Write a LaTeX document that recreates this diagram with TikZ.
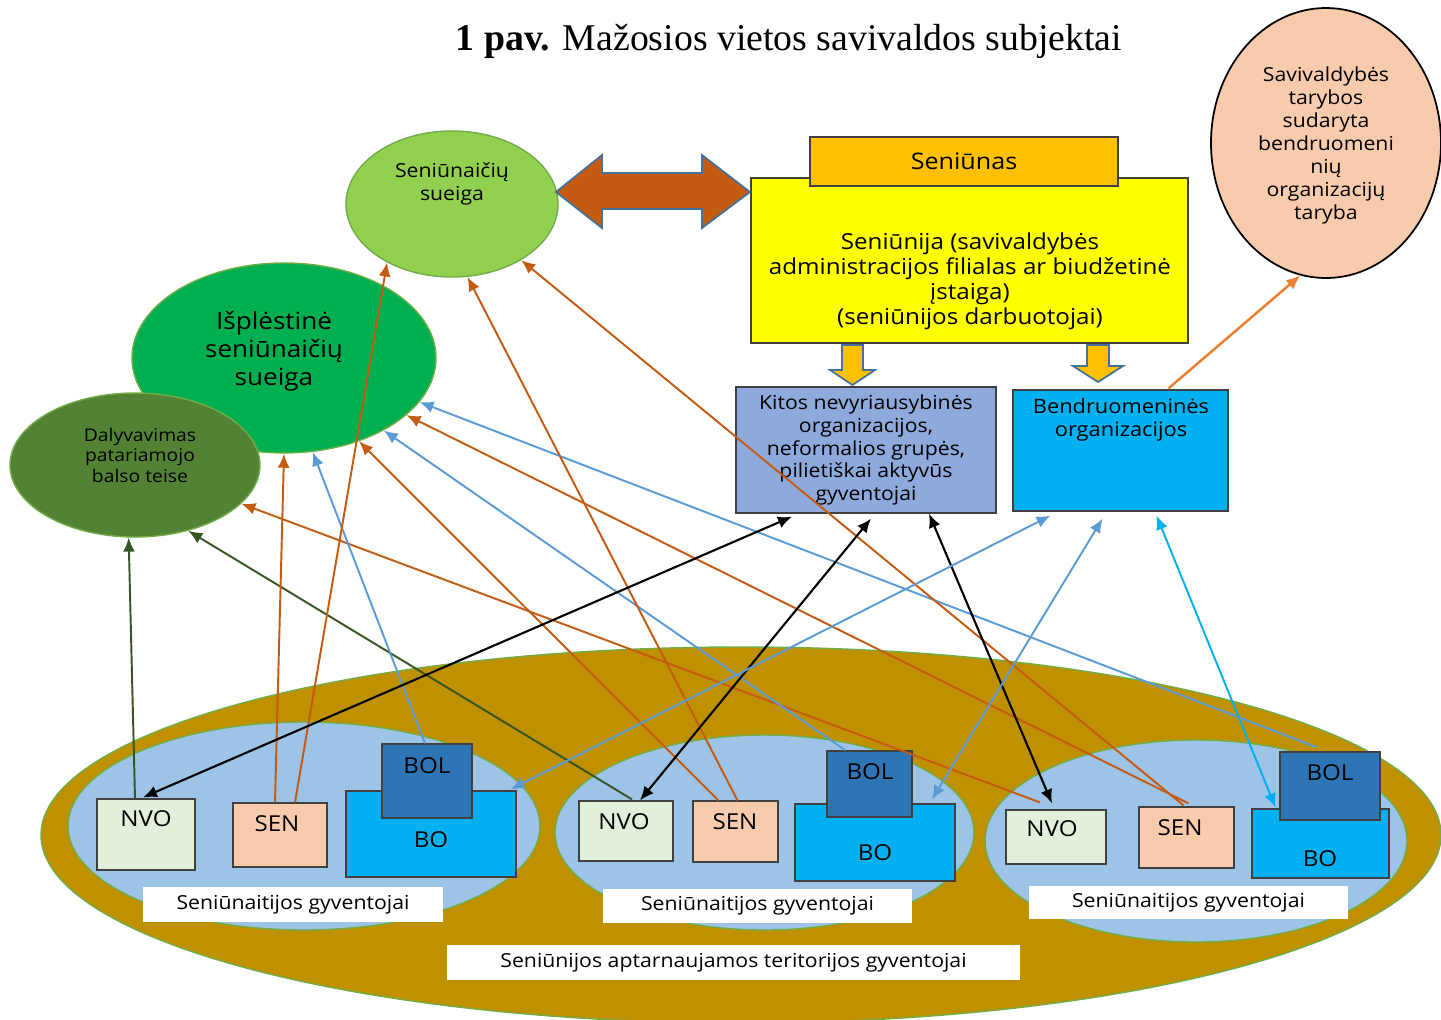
\documentclass[tikz,border=0pt]{standalone}
\usepackage{fontspec}
\setmainfont{Open Sans}[FakeStretch=1.1]
\newfontfamily\titlefont{Liberation Serif}
\usetikzlibrary{calc,shapes.geometric,arrows.meta}

\definecolor{leaf}{HTML}{92D050}
\definecolor{grass}{HTML}{00B050}
\definecolor{moss}{HTML}{548235}
\definecolor{rimgreen}{HTML}{70AD47}
\definecolor{rust}{HTML}{C55A11}
\definecolor{steel}{HTML}{41719C}
\definecolor{gold}{HTML}{FFC000}
\definecolor{lemon}{HTML}{FFFF00}
\definecolor{lavender}{HTML}{8EA9DB}
\definecolor{sky}{HTML}{00B0F0}
\definecolor{peach}{HTML}{F8CBAD}
\definecolor{ochre}{HTML}{BF9000}
\definecolor{pale}{HTML}{9DC3E6}
\definecolor{mint}{HTML}{E2EFDA}
\definecolor{navy}{HTML}{2E75B6}
\definecolor{wire}{HTML}{5B9BD5}
\definecolor{pine}{HTML}{375623}
\definecolor{tangerine}{HTML}{ED7D31}

\begin{document}
\begin{tikzpicture}[x=0.02cm,y=-0.02cm,
  oval/.style 2 args={ellipse, minimum width=#1*0.02cm, minimum height=#2*0.02cm, inner sep=0pt, line width=0.8pt},
  box/.style 2 args={rectangle, draw=black!75, line width=0.7pt, minimum width=#1*0.02cm, minimum height=#2*0.02cm, inner sep=0pt},
  txt/.style={align=center, inner sep=0pt, font=\fontsize{11}{13}\selectfont},
  tag/.style={inner sep=0pt, font=\fontsize{12.5}{15}\selectfont},
  link/.style={line width=1.1pt, -{Latex[length=0.28cm,width=0.24cm]}},
  twoway/.style={line width=1.2pt, {Latex[length=0.28cm,width=0.24cm]}-{Latex[length=0.28cm,width=0.24cm]}},
  block/.style={line width=1pt, draw=steel}
]
\useasboundingbox (0,0) rectangle (1441,1019);

%%%%% TITLE %%%%%
\node[inner sep=0pt, font=\titlefont\fontsize{21.5}{24}\selectfont] (title) at (789,41)
  {\textbf{1 pav.} Mažosios vietos savivaldos subjektai};

%%%%% TERRITORY %%%%%
\node[oval={1400}{376}, fill=ochre, draw=rimgreen] (terr) at (741,835) {};
\node[oval={472}{208}, fill=pale, draw=rimgreen] (areaA) at (304,826) {};
\node[oval={419}{195}, fill=pale, draw=rimgreen] (areaB) at (764.5,832.5) {};
\node[oval={422}{202}, fill=pale, draw=rimgreen] (areaC) at (1196,841) {};

% first group
\node[box={98}{71}, fill=mint] (nvoA) at (146,834.5) {};
\node[box={94}{64}, fill=peach] (senA) at (280,835) {};
\node[box={170}{86}, fill=sky] (boA) at (431,834) {};
\node[box={90}{74}, fill=navy] (bolA) at (427,781) {};
\node[tag] (nvoAt) at (146,819) {NVO};
\node[tag] (senAt) at (277,824) {SEN};
\node[tag] (boAt) at (431,840) {BO};
\node[tag] (bolAt) at (427,766) {BOL};
\node[box={300}{35}, draw=none, fill=white, txt] (labA) at (293,904.5) {Seniūnaitijos gyventojai};

% second group
\node[box={94}{60}, fill=mint] (nvoB) at (626,831) {};
\node[box={85}{61}, fill=peach] (senB) at (735.5,831.5) {};
\node[box={160}{77}, fill=sky] (boB) at (875,842.5) {};
\node[box={85}{66}, fill=navy] (bolB) at (869.5,784) {};
\node[tag] (nvoBt) at (624,822) {NVO};
\node[tag] (senBt) at (735,822) {SEN};
\node[tag] (boBt) at (875,853) {BO};
\node[tag] (bolBt) at (870,772) {BOL};
\node[box={309}{34}, draw=none, fill=white, txt] (labB) at (757.5,906) {Seniūnaitijos gyventojai};

% third group
\node[box={100}{54}, fill=mint] (nvoC) at (1056,837) {};
\node[box={95}{61}, fill=peach] (senC) at (1186.5,837.5) {};
\node[box={137}{69}, fill=sky] (boC) at (1320.5,843.5) {};
\node[box={100}{68}, fill=navy] (bolC) at (1330,786) {};
\node[tag] (nvoCt) at (1052,829) {NVO};
\node[tag] (senCt) at (1180,828) {SEN};
\node[tag] (boCt) at (1320,859) {BO};
\node[tag] (bolCt) at (1330,773) {BOL};
\node[box={319}{33}, draw=none, fill=white, txt] (labC) at (1188.5,902.5) {Seniūnaitijos gyventojai};

\node[box={573}{35}, draw=none, fill=white, txt] (labAll) at (733.5,962.5) {Seniūnijos aptarnaujamos teritorijos gyventojai};

%%%%% MEETINGS %%%%%
\node[oval={304}{190}, fill=grass, draw=rimgreen] (isp) at (284,358) {};
\node[txt, font=\fontsize{13.5}{16}\selectfont] (ispt) at (274,351) {Išplėstinė\\seniūnaičių\\sueiga};
\node[oval={250}{144}, fill=moss, draw=rimgreen] (dal) at (135,465) {};
\node[txt, font=\fontsize{10}{11.7}\selectfont] (dalt) at (140,455) {Dalyvavimas\\patariamojo\\balso teise};
\node[oval={212}{146}, fill=leaf, draw=rimgreen] (sueiga) at (452,204) {};
\node[txt] (sueigat) at (452,183.5) {Seniūnaičių\\sueiga};

%%%%% ADMINISTRATION %%%%%
\node[box={437}{165}, fill=lemon] (seniunija) at (969.5,260.5) {};
\node[txt, font=\fontsize{12.5}{14.2}\selectfont] (seniunijat) at (970,281)
  {Seniūnija (savivaldybės\\administracijos filialas ar biudžetinė\\įstaiga)\\(seniūnijos darbuotojai)};
\node[box={308}{49}, fill=gold, font=\fontsize{13}{15}\selectfont] (seniunas) at (964,161.5) {Seniūnas};
\node[box={260}{126}, fill=lavender, txt] (kitos) at (866,450)
  {Kitos nevyriausybinės\\organizacijos,\\neformalios grupės,\\pilietiškai aktyvūs\\gyventojai};
\node[box={215}{121}, fill=sky] (bendr) at (1120.5,450.5) {};
\node[txt, font=\fontsize{11.3}{13}\selectfont] (bendrt) at (1121,419.5) {Bendruomeninės\\organizacijos};
\node[oval={230}{270}, fill=peach, draw=black, line width=1pt] (taryba) at (1326,143) {};
\node[txt, font=\fontsize{11}{13.1}\selectfont] (tarybat) at (1326,145.5)
  {Savivaldybės\\tarybos\\sudaryta\\bendruomeni\\nių\\organizacijų\\taryba};

% block arrows
\draw[block, fill=rust] (556,192) -- (602,155) -- (602,173) -- (702,173) -- (702,155)
  -- (750,192) -- (702,228) -- (702,209) -- (602,209) -- (602,228) -- cycle;
\draw[block, fill=gold] (842,345) -- (863,345) -- (863,370) -- (875,370) -- (852.5,385)
  -- (830,370) -- (842,370) -- cycle;
\draw[block, fill=gold] (1087,345) -- (1109,345) -- (1109,366) -- (1123,366) -- (1098,382)
  -- (1073,366) -- (1087,366) -- cycle;

%%%%% CONNECTORS %%%%%
\draw[link, pine] ($(nvoA.north)+(-11,0)$) -- (dal.-95);
\draw[link, pine] ($(nvoB.north)+(6,-1)$) -- (dal.-51);
\draw[link, rust] ($(nvoC.north)+(-16,-7)$) -- (dal.-20);

\draw[link, rust] ($(senA.north)+(-5,0)$) -- (isp.-90);
\draw[link, wire] ($(bolA.north)+(-2,0)$) -- (isp.-73);
\draw[link, rust] ($(senB.north)+(-17,0)$) -- (isp.-48);
\draw[link, wire] ($(bolB.north)+(-24,0)$) -- (isp.-36);
\draw[link, rust] ($(senC.north)+(2,-3)$) -- (isp.-25);
\draw[link, wire] ($(bolC.north)+(-13,-4)$) -- (isp.-18);

\draw[link, rust] ($(senA.north)+(15,0)$) -- (sueiga.-138);
\draw[link, rust] ($(senB.north)+(2,0)$) -- (sueiga.-78);
\draw[link, rust] ($(senC.north)+(-3,-1)$) -- (sueiga.-39);

\draw[twoway, black] ($(nvoA.north)+(-3,-1)$) -- ($(kitos.south)+(-74,3)$);
\draw[twoway, black] ($(nvoB.north)+(14,0)$) -- ($(kitos.south)+(5,5)$);
\draw[twoway, black] ($(nvoC.north)+(-4,-6)$) -- ($(kitos.south)+(63,0)$);

\draw[twoway, wire, line width=1.1pt] ($(boA.north east)+(-6,-1)$) -- ($(bendr.south)+(-70,4)$);
\draw[twoway, wire, line width=1.1pt] ($(boB.north)+(57,-4)$) -- ($(bendr.south)+(-18,7)$);
\draw[twoway, sky, line width=1.1pt] ($(boC.north)+(-45,-1)$) -- ($(bendr.south)+(36,4)$);

\draw[link, tangerine, line width=1.4pt] ($(bendr.north)+(48,-1)$) -- (taryba.-101);
\end{tikzpicture}
\end{document}
